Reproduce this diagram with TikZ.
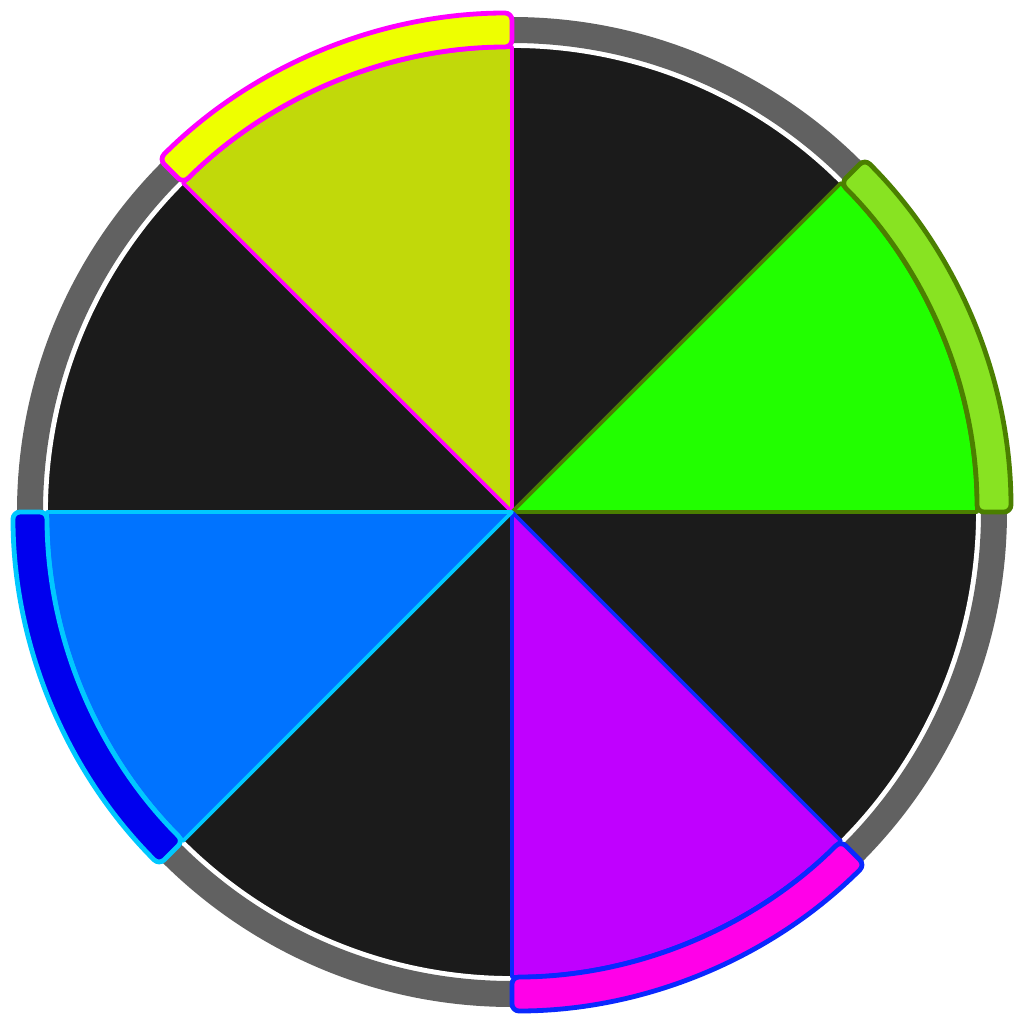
\documentclass[tikz,border=0pt]{standalone}
\definecolor{segblack}{HTML}{1B1B1B}
\definecolor{ringgray}{HTML}{616161}
\definecolor{ysl}{HTML}{C1D90A}
\definecolor{yband}{HTML}{EEFF00}
\definecolor{ystroke}{HTML}{FF00FF}
\definecolor{gsl}{HTML}{22FF00}
\definecolor{gband}{HTML}{88E322}
\definecolor{gstroke}{HTML}{4B7F00}
\definecolor{psl}{HTML}{C000FF}
\definecolor{pband}{HTML}{FF00E8}
\definecolor{pstroke}{HTML}{0A28FF}
\definecolor{bsl}{HTML}{0073FF}
\definecolor{bband}{HTML}{0000EE}
\definecolor{bstroke}{HTML}{00C8FF}
\tikzset{
  blackslice/.style={fill=segblack,draw=white,line width=0.9pt,line join=round},
  hislice/.style={line width=1.8pt,line join=round},
  band/.style={line width=2.4pt,line join=round,rounded corners=3.5pt},
}
\begin{document}
\begin{tikzpicture}[x=0.5pt,y=0.5pt]
\useasboundingbox (-512,-512) rectangle (512,512);
\fill[white] (-512,-512) rectangle (512,512);
% black slices
\foreach \a in {0,45,...,315}
  \filldraw[blackslice] (0,0) -- (\a:465) arc[start angle=\a,end angle=\a+45,radius=465] -- cycle;
% gray ring
\draw[ringgray,line width=13pt] (0,0) circle[radius=482];
% highlighted slices
\filldraw[hislice,fill=ysl,draw=ystroke] (0,0) -- (90:465) arc[start angle=90,end angle=135,radius=465] -- cycle;
\filldraw[hislice,fill=gsl,draw=gstroke] (0,0) -- (0:465) arc[start angle=0,end angle=45,radius=465] -- cycle;
\filldraw[hislice,fill=psl,draw=pstroke] (0,0) -- (270:465) arc[start angle=270,end angle=315,radius=465] -- cycle;
\filldraw[hislice,fill=bsl,draw=bstroke] (0,0) -- (180:465) arc[start angle=180,end angle=225,radius=465] -- cycle;
% bands
\filldraw[band,fill=yband,draw=ystroke] (90:465) arc[start angle=90,end angle=135,radius=465] -- (135:499) arc[start angle=135,end angle=90,radius=499] -- cycle;
\filldraw[band,fill=gband,draw=gstroke] (0:465) arc[start angle=0,end angle=45,radius=465] -- (45:499) arc[start angle=45,end angle=0,radius=499] -- cycle;
\filldraw[band,fill=pband,draw=pstroke] (270:465) arc[start angle=270,end angle=315,radius=465] -- (315:499) arc[start angle=315,end angle=270,radius=499] -- cycle;
\filldraw[band,fill=bband,draw=bstroke] (180:465) arc[start angle=180,end angle=225,radius=465] -- (225:499) arc[start angle=225,end angle=180,radius=499] -- cycle;
\end{tikzpicture}
\end{document}
